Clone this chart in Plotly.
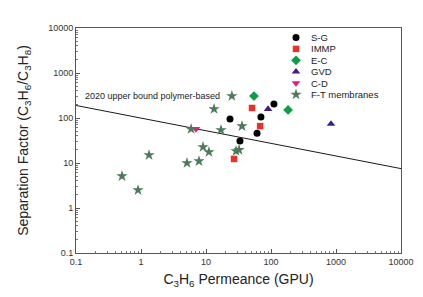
import plotly.graph_objects as go

# ---- data (C3H6 permeance in GPU, separation factor) ----
sg_x = [23.4, 33.3, 61, 70, 111]
sg_y = [95, 31, 46, 105, 205]

immp_x = [51, 68, 27]
immp_y = [167, 66, 12.3]

ec_x = [54.7, 183]
ec_y = [308, 151]

gvd_x = [90, 838]
gvd_y = [158, 74]

cd_x = [7.0]
cd_y = [57]

ft_x = [0.51, 0.90, 1.33, 5.1, 7.8, 9.0, 11.1, 5.9, 13.3, 17.0, 25, 35.8, 29, 32.2]
ft_y = [5.1, 2.5, 15, 10, 11, 22.7, 17.5, 57, 158, 54, 308, 66, 18.5, 19.5]

bound_x = [0.1, 10000]
bound_y = [190, 7.5]

tick_vals = [0.1, 1, 10, 100, 1000, 10000]
tick_text = ["0.1", "1", "10", "100", "1000", "10000"]

legend_names = ["S-G", "IMMP", "E-C", "GVD", "C-D", "F-T membranes"]

# ---- styles ----
series = [
    (sg_x, sg_y, "circle", "#000000", 7),
    (immp_x, immp_y, "square", "#e8312a", 6.5),
    (ec_x, ec_y, "diamond", "#0f9e48", 7.5),
    (gvd_x, gvd_y, "triangle-up", "#3a2088", 7.5),
    (cd_x, cd_y, "triangle-down", "#e8197d", 7.5),
    (ft_x, ft_y, "star", "#4d7a5b", 8.5),
]

FONT = "Arial, Liberation Sans"

fig = go.Figure()

fig.add_trace(go.Scatter(x=bound_x, y=bound_y, mode="lines",
                         line=dict(color="#1a1a1a", width=1), showlegend=False,
                         hoverinfo="skip"))

for (xs, ys, sym, col, sz) in series:
    fig.add_trace(go.Scatter(x=xs, y=ys, mode="markers", showlegend=False,
                             marker=dict(symbol=sym, color=col, size=sz,
                                         line=dict(width=0))))

# custom legend on overlay axes
L = 68; R = 393; T = 20; B = 245
def px2paper_x(px):
    return (px - L) / (R - L)
def px2paper_y(py):
    return (B - py) / (B - T)

row0 = 29.5
rowstep = 11.4
for i, (name, s) in enumerate(zip(legend_names, series)):
    yy = px2paper_y(row0 + i * rowstep)
    fig.add_trace(go.Scatter(x=[px2paper_x(288)], y=[yy], mode="markers",
                             xaxis="x2", yaxis="y2", showlegend=False,
                             marker=dict(symbol=s[2], color=s[3], size=s[4],
                                         line=dict(width=0)),
                             hoverinfo="skip"))
    fig.add_annotation(x=px2paper_x(301), y=yy, xref="paper", yref="paper",
                       text=name, showarrow=False, xanchor="left", yanchor="middle",
                       font=dict(family=FONT, size=9.5, color="#222"))

fig.add_annotation(x=px2paper_x(75), y=px2paper_y(88), xref="paper", yref="paper",
                   text="2020 upper bound polymer-based", showarrow=False,
                   xanchor="left", yanchor="middle",
                   font=dict(family=FONT, size=9, color="#222"))

axis_common = dict(
    type="log",
    showgrid=False, zeroline=False,
    showline=True, linecolor="#555", linewidth=1, mirror=True,
    ticks="inside", ticklen=4, tickcolor="#555", tickwidth=1,
    tickvals=tick_vals, ticktext=tick_text,
    tickfont=dict(family=FONT, size=9, color="#333"),
    minor=dict(ticks="inside", ticklen=2, tickcolor="#777", dtick="D1"),
)

fig.update_layout(
    width=423, height=297,
    margin=dict(l=L, r=423 - R, t=T, b=297 - B),
    paper_bgcolor="white", plot_bgcolor="white",
    showlegend=False,
    xaxis=dict(axis_common, range=[-1, 4],
               title=dict(text="C<sub>3</sub>H<sub>6</sub> Permeance (GPU)",
                          font=dict(family=FONT, size=14, color="#222"),
                          standoff=8)),
    yaxis=dict(axis_common, range=[-1, 4],
               title=dict(text="Separation Factor (C<sub>3</sub>H<sub>6</sub>/C<sub>3</sub>H<sub>8</sub>)",
                          font=dict(family=FONT, size=14, color="#222"),
                          standoff=16)),
    xaxis2=dict(range=[0, 1], overlaying="x", visible=False, fixedrange=True),
    yaxis2=dict(range=[0, 1], overlaying="y", visible=False, fixedrange=True),
)

fig.write_html("out.html")
